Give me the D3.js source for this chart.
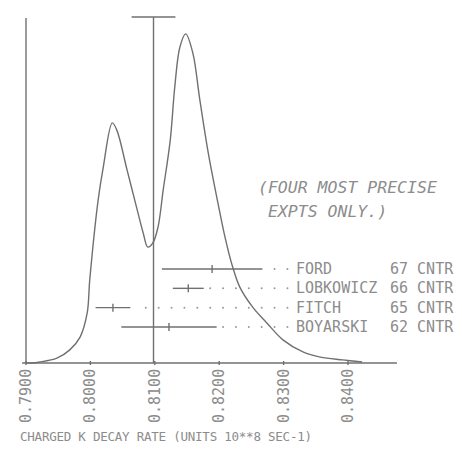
<!DOCTYPE html>
<html>
<head>
<meta charset="utf-8">
<script src="https://cdn.jsdelivr.net/npm/d3@7"></script>
<style>
  html, body { margin: 0; padding: 0; background: #fff; }
  svg { display: block; }
  text { font-family: "DejaVu Sans Mono", "Liberation Mono", monospace; fill: #8c8c8c; }
</style>
</head>
<body>
<script>
// Ideogram of the charged K decay rate (units 10**8 s^-1)
const curveRates = [0.7900, 0.7906, 0.7922, 0.7948, 0.7968, 0.7984, 0.7995, 0.7999,
  0.8012, 0.8020, 0.8034, 0.8041, 0.8057, 0.8072, 0.8082, 0.8089, 0.8097, 0.8105,
  0.8113, 0.8124, 0.8131, 0.8139, 0.8148, 0.8159, 0.8170, 0.8183, 0.8198, 0.8209,
  0.8220, 0.8232, 0.8252, 0.8274, 0.8299, 0.8330, 0.8357, 0.8392, 0.8422];
const curveHeights = [0, 0, 0.003, 0.014, 0.038, 0.075, 0.145, 0.241,
  0.472, 0.568, 0.696, 0.675, 0.559, 0.449, 0.377, 0.336, 0.348, 0.394,
  0.501, 0.646, 0.800, 0.916, 0.954, 0.899, 0.762, 0.609, 0.464, 0.365,
  0.284, 0.220, 0.162, 0.116, 0.067, 0.032, 0.017, 0.009, 0.003];

// The four most precise experiments
const experiments = ["FORD", "LOBKOWICZ", "FITCH", "BOYARSKI"];
const years = ["67", "66", "65", "62"];
const methods = ["CNTR", "CNTR", "CNTR", "CNTR"];
const rates = [0.8189, 0.8152, 0.8035, 0.8122];
const errors = [0.0078, 0.0024, 0.0027, 0.0074];

// Weighted mean and its error
const meanRate = 0.8098;
const meanError = 0.0034;

const tickValues = [0.79, 0.80, 0.81, 0.82, 0.83, 0.84];
const xTitle = "CHARGED K DECAY RATE (UNITS 10**8 SEC-1)";
const note = ["(FOUR MOST PRECISE", " EXPTS ONLY.)"];

const W = 462, H = 450;
const ink = "#707070";

const svg = d3.select("body").append("svg").attr("width", W).attr("height", H);
svg.append("rect").attr("width", W).attr("height", H).attr("fill", "#fff");

const x = d3.scaleLinear().domain([0.79, 0.84]).range([26, 348]);
const y = d3.scaleLinear().domain([0, 1]).range([363, 18]);
const row = d3.scalePoint().domain(experiments).range([269, 327]);

const g = svg.append("g")
  .attr("fill", "none").attr("stroke", ink).attr("stroke-width", 1.4);

// axes
g.append("line").attr("x1", x(0.7894)).attr("x2", x(0.8476)).attr("y1", y(0)).attr("y2", y(0));
g.append("line").attr("x1", x(0.79)).attr("x2", x(0.79)).attr("y1", y(0)).attr("y2", y(1));
g.selectAll(".tick").data(tickValues).join("line")
  .attr("x1", d => x(d)).attr("x2", d => x(d))
  .attr("y1", y(0) - 2).attr("y2", y(0) + 2);

// ideogram
const pts = curveRates.map((r, i) => [r, curveHeights[i]]);
g.append("path")
  .datum(pts)
  .attr("d", d3.line().x(d => x(d[0])).y(d => y(d[1])).curve(d3.curveCatmullRom.alpha(0.5)));

// mean with error cap
g.append("line").attr("x1", x(meanRate)).attr("x2", x(meanRate)).attr("y1", y(0)).attr("y2", y(1.003));
g.append("line").attr("x1", x(meanRate - meanError)).attr("x2", x(meanRate + meanError))
  .attr("y1", y(1.003)).attr("y2", y(1.003));

// experiment error bars
experiments.forEach((name, i) => {
  const cy = row(name);
  g.append("line").attr("x1", x(rates[i] - errors[i])).attr("x2", x(rates[i] + errors[i]))
    .attr("y1", cy).attr("y2", cy);
  g.append("line").attr("x1", x(rates[i])).attr("x2", x(rates[i]))
    .attr("y1", cy - 4).attr("y2", cy + 4);
  // dotted leader towards the label
  const end = rates[i] + errors[i];
  const dots = d3.range(0.8306, end + 0.0008, -0.002);
  svg.selectAll(null).data(dots).join("circle")
    .attr("cx", d => x(d)).attr("cy", cy).attr("r", 1)
    .attr("fill", "#999");
});

// experiment labels
const lab = svg.append("g").attr("font-size", 15);
experiments.forEach((name, i) => {
  const cy = row(name) + 5;
  lab.append("text").attr("x", 296).attr("y", cy).text(name);
  lab.append("text").attr("x", 390).attr("y", cy).text(years[i] + " " + methods[i]);
});

// note
svg.append("g").attr("font-size", 16.5).attr("font-style", "italic")
  .selectAll("text").data(note).join("text")
  .attr("x", 258).attr("y", (d, i) => 193 + i * 24)
  .attr("xml:space", "preserve")
  .style("white-space", "pre")
  .text(d => d);

// tick labels, rotated
svg.append("g").attr("font-size", 15)
  .selectAll("text").data(tickValues).join("text")
  .attr("transform", d => `translate(${x(d) + 5},423) rotate(-90)`)
  .text(d3.format(".4f"));

// axis title
svg.append("text").attr("x", 20).attr("y", 441).attr("font-size", 12.5)
  .attr("textLength", 292).attr("lengthAdjust", "spacing")
  .text(xTitle);
</script>
</body>
</html>
